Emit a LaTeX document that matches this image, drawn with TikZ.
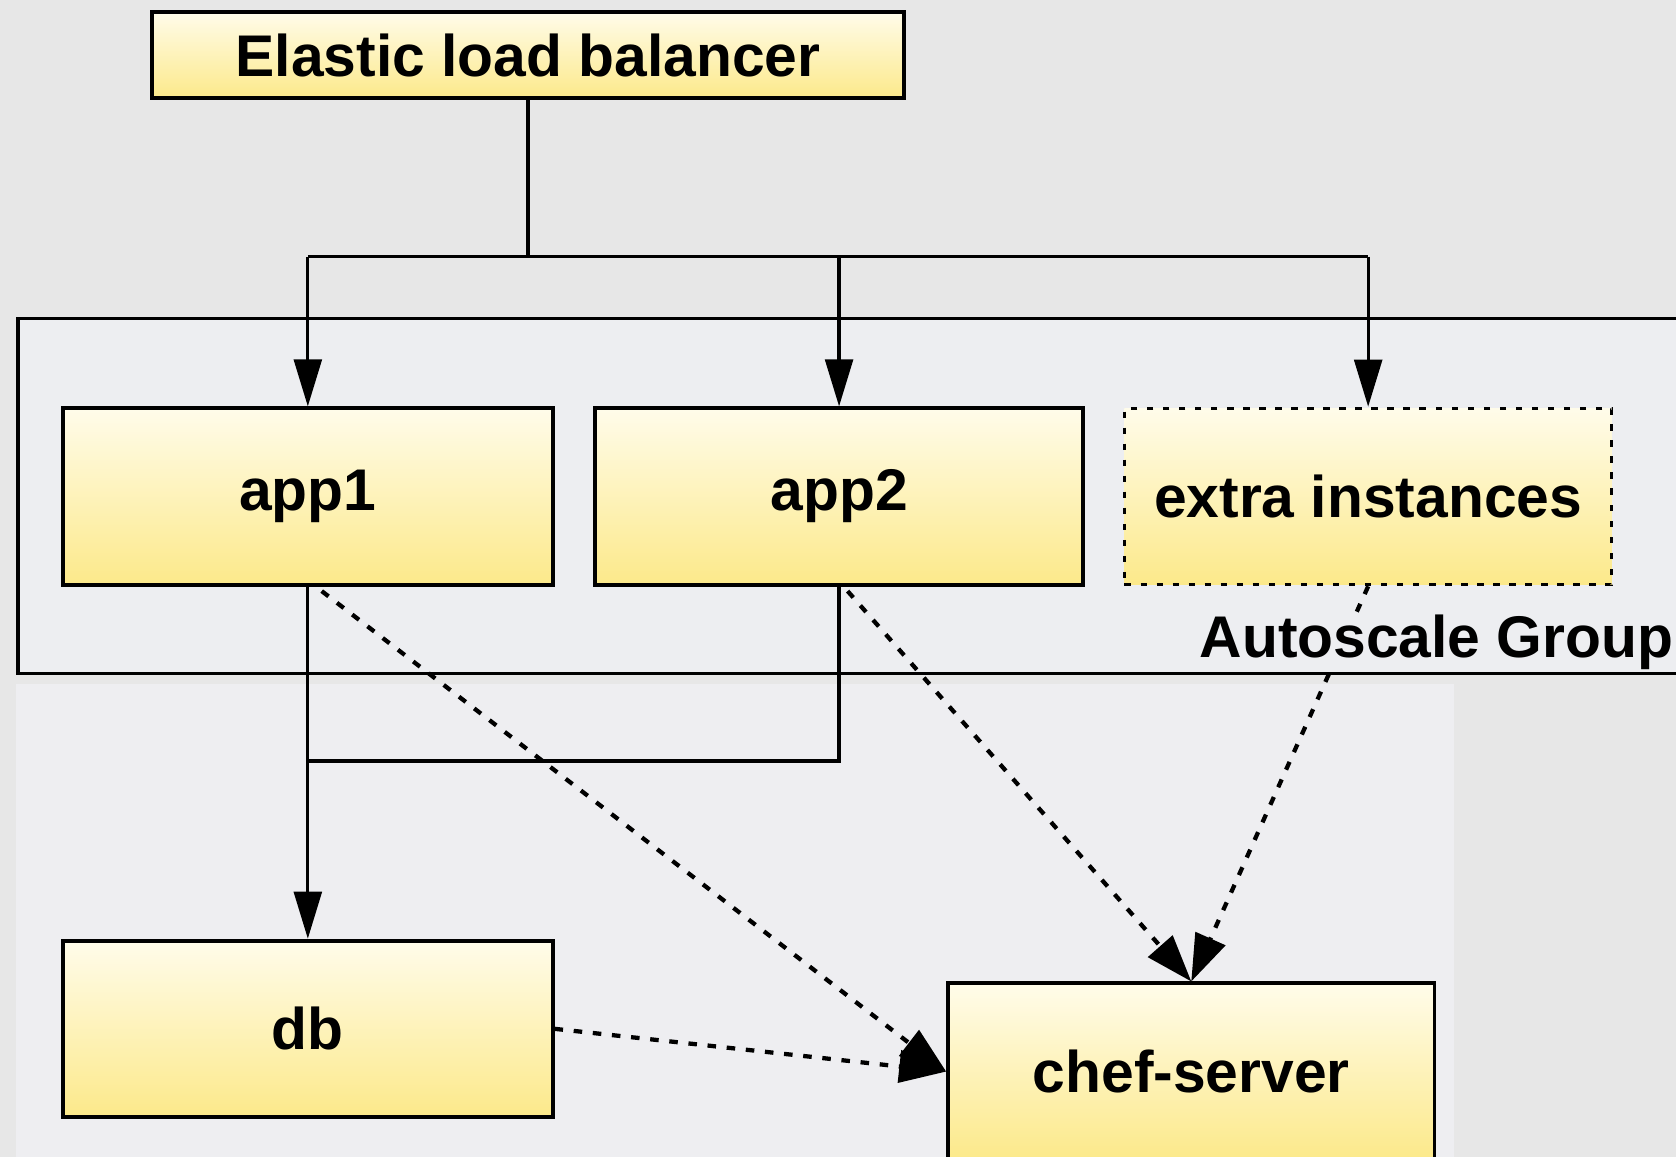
\documentclass[tikz,border=0pt]{standalone}
\usepackage{fontspec}
\setmainfont{Liberation Sans}
\usetikzlibrary{arrows.meta}
\definecolor{bgtop}{HTML}{E7E7E7}
\definecolor{bglow}{HTML}{EEEEF1}
\definecolor{grpfill}{HTML}{EDEEF1}
\definecolor{boxtop}{HTML}{FFFCEA}
\definecolor{boxbot}{HTML}{FCE98A}
\begin{document}
\begin{tikzpicture}[x=0.5pt,y=-0.5pt,
  box/.style={draw=black, line width=1.8pt, top color=boxtop, bottom color=boxbot,
    minimum height=82.5pt, inner sep=0pt, font=\fontsize{27.5}{33}\selectfont\bfseries},
  dotbox/.style={box, line width=1.5pt, dash pattern=on 3pt off 4.5pt},
  conn/.style={line width=1.5pt, draw=black},
  arr/.style={conn, -{Triangle[length=22pt,width=13pt]}},
  dotarr/.style={line width=2pt, draw=black, dash pattern=on 4pt off 5pt, -{Triangle[length=22pt,width=15pt]}},
  lbl/.style={font=\fontsize{27.5}{33}\selectfont\bfseries, inner sep=0pt}
]
\useasboundingbox (0,0) rectangle (1568,1082);
% backgrounds
\fill[bgtop] (0,0) rectangle (1568,1082);
\fill[bglow] (15,640) rectangle (1360,1082);
\path[fill=grpfill, draw=black, line width=1.6pt] (17,298) rectangle (1620,630);

% nodes
\node[box, minimum width=352pt, minimum height=40.5pt] (elb) at (494,51.5) {Elastic load balancer};
\node[box, minimum width=229pt] (app1) at (288,464.5) {app1};
\node[box, minimum width=228pt] (app2) at (785,464.5) {app2};
\node[dotbox, minimum width=228pt] (extra) at (1280,464.5) {extra instances};
\node[box, minimum width=229pt] (db) at (288,962.5) {db};
\node[box, minimum width=227.5pt] (chef) at (1114.5,1002.5) {chef-server};

% coordinates
\coordinate (busL) at (288,240);
\coordinate (busR) at (1280,240);
\coordinate (join) at (288,712);
\coordinate (a1d) at (301,553);
\coordinate (a2d) at (793,553);

% connectors
\draw[conn] (elb.south) -- (elb.south |- busL);
\draw[conn] (busL) -- (busR);
\draw[arr] (busL) -- (app1.north);
\draw[arr] (app2.north |- busL) -- (app2.north);
\draw[arr] (busR) -- (extra.north);
\draw[conn] (app2.south) |- (join);
\draw[arr] (app1.south) -- (db.north);
\draw[dotarr] (a1d) -- (chef.west);
\draw[dotarr] (db.east) -- (chef.west);
\draw[dotarr] (a2d) -- (chef.north);
\draw[dotarr] (extra.south) -- (chef.north);

\node[lbl, fill=grpfill, anchor=base west] (grplabel) at (1122,615) {Autoscale Group};
\end{tikzpicture}
\end{document}
